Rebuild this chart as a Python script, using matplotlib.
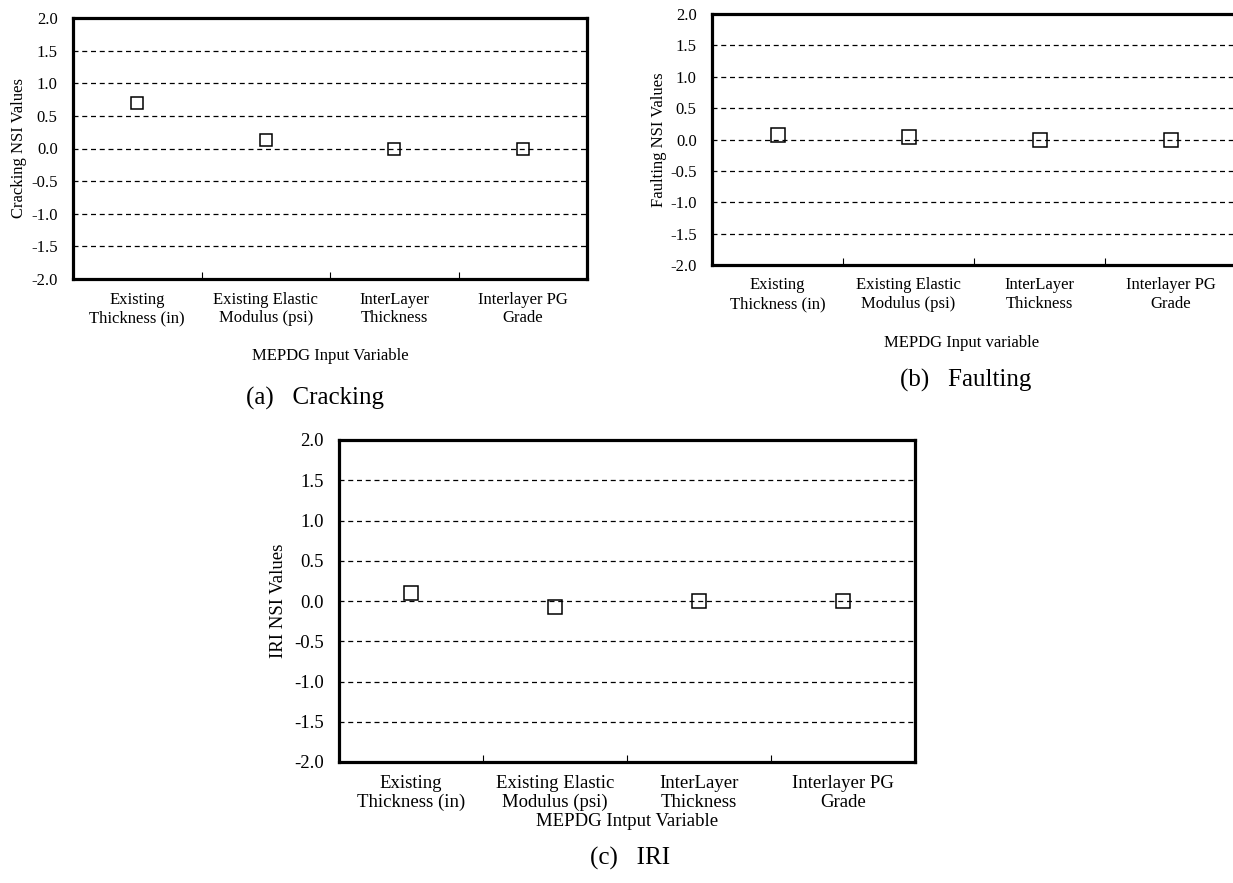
import matplotlib
matplotlib.use("Agg")
import matplotlib.pyplot as plt

plt.rcParams['font.family'] = ['Liberation Serif', 'DejaVu Serif']

# data
variables = ["Existing\nThickness (in)", "Existing Elastic\nModulus (psi)",
             "InterLayer\nThickness", "Interlayer PG\nGrade"]
cracking_nsi = [0.69, 0.13, 0.0, 0.0]
faulting_nsi = [0.07, 0.04, -0.01, 0.0]
iri_nsi = [0.10, -0.08, 0.0, 0.0]
y_ticks = [-2.0, -1.5, -1.0, -0.5, 0.0, 0.5, 1.0, 1.5, 2.0]

W, H = 1233, 883
fig = plt.figure(figsize=(W / 100, H / 100), dpi=100)


def px_axes(x0, y0, x1, y1):
  # pixel box (top-left origin) -> figure fraction
  return fig.add_axes([x0 / W, 1 - y1 / H, (x1 - x0) / W, (y1 - y0) / H])


def panel(ax, vals, ylabel, fs, msize, lpad):
  xs = list(range(len(variables)))
  for yv in y_ticks[1:-1]:
    ax.axhline(yv, color='black', lw=0.9, linestyle=(0, (4, 3)), zorder=1)
  ax.plot(xs, vals, linestyle='none', marker='s', markersize=msize,
          markerfacecolor='none', markeredgecolor='black', markeredgewidth=1.1,
          zorder=3, clip_on=False)
  ax.set_xlim(-0.5, len(variables) - 0.5)
  ax.set_ylim(-2.0, 2.0)
  ax.set_yticks(y_ticks)
  ax.set_yticklabels([f"{v:.1f}" for v in y_ticks], fontsize=fs)
  ax.set_xticks(xs)
  ax.set_xticklabels(variables, fontsize=fs, linespacing=1.2)
  ax.set_xticks([i + 0.5 for i in xs[:-1]], minor=True)
  ax.tick_params(axis='x', which='major', length=0, pad=9)
  ax.tick_params(axis='x', which='minor', direction='in', length=5, width=0.8)
  ax.tick_params(axis='y', length=0, pad=11)
  for s in ax.spines.values():
    s.set_linewidth(2.3)
  ax.set_ylabel(ylabel, fontsize=fs, labelpad=lpad)


def ftext(x, y, s, fs):
  fig.text(x / W, 1 - y / H, s, fontsize=fs, ha='center', va='center')


# (a) Cracking
ax1 = px_axes(73, 18, 587, 279)
panel(ax1, cracking_nsi, "Cracking NSI Values", 12, 9.3, 3)
ftext(330, 356, "MEPDG Input Variable", 12)
ftext(315, 398, "(a)   Cracking", 18)

# (b) Faulting
ax2 = px_axes(712, 14, 1236, 265)
panel(ax2, faulting_nsi, "Faulting NSI Values", 12, 9.5, 2.5)
ftext(962, 343, "MEPDG Input variable", 12)
ftext(966, 380, "(b)   Faulting", 18)

# (c) IRI
ax3 = px_axes(339, 440, 915, 762)
panel(ax3, iri_nsi, "IRI NSI Values", 13.5, 10.5, 5)
ftext(627, 822, "MEPDG Intput Variable", 13.5)
ftext(630, 858, "(c)   IRI", 18)

fig.savefig("out.png", dpi=100)
